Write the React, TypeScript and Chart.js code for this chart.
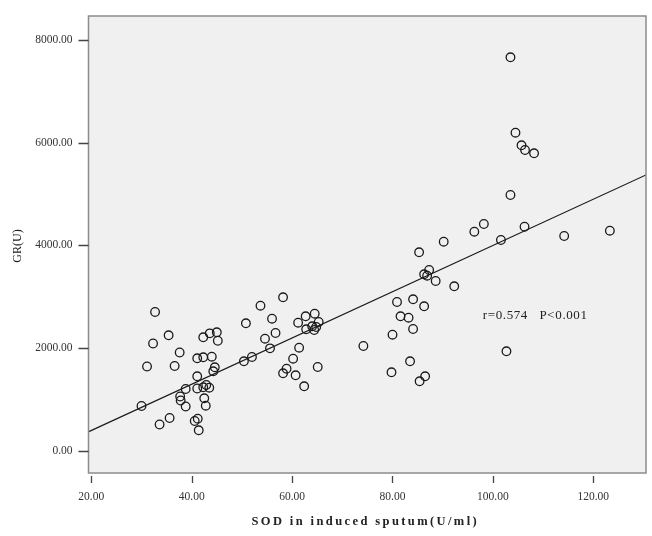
import React, { useEffect, useRef } from "react";
import { Chart, registerables } from "chart.js";

Chart.register(...registerables);

// SOD in induced sputum (U/ml)
const sodValues = [
  30.0, 31.1, 32.3, 32.7, 33.6, 35.4, 35.6, 36.6, 37.6, 37.7,
  37.8, 38.8, 38.8, 40.6, 41.2, 41.4, 41.1, 41.1, 41.1, 42.3,
  43.6, 45.0, 45.2, 42.3, 44.0, 44.6, 44.3, 42.3, 42.9, 43.5,
  42.5, 42.8, 50.8, 50.4, 52.0, 53.7, 58.2, 56.0, 56.7, 54.6,
  55.6, 58.2, 58.9, 60.2, 60.7, 61.4, 61.2, 62.7, 64.5, 65.3,
  64.0, 62.8, 64.4, 64.8, 65.1, 62.4, 74.2, 80.0, 79.8, 80.9,
  81.6, 83.2, 83.5, 84.1, 84.1, 85.3, 85.4, 86.5, 86.3, 86.3,
  86.9, 87.3, 88.6, 90.2, 92.3, 96.3, 98.2, 101.6, 102.7, 103.5,
  103.5, 104.5, 105.7, 106.4, 108.2, 106.3, 114.2, 123.3,
];

// GR (U)
const grValues = [
  876, 1644, 2092, 2705, 516, 2252, 642, 1654, 1917, 1061,
  983, 1207, 866, 584, 629, 403, 1804, 1454, 1216, 2213,
  2290, 2310, 2146, 1823, 1835, 1629, 1551, 1240, 1284, 1232,
  1026, 882, 2485, 1746, 1829, 2828, 2991, 2575, 2296, 2185,
  1998, 1512, 1602, 1796, 1473, 2010, 2497, 2621, 2672, 2510,
  2427, 2368, 2355, 2413, 1635, 1259, 2043, 2263, 1532, 2900,
  2621, 2594, 1746, 2374, 2952, 3867, 1356, 1454, 2816, 3439,
  3411, 3522, 3308, 4073, 3205, 4268, 4417, 4106, 1940, 4982,
  7661, 6194, 5949, 5857, 5793, 4365, 4184, 4287,
];

// Fit line endpoints (at the plot edges)
const fitX = [19.4, 130.5];
const fitY = [373, 5372];

const xTickValues = [20, 40, 60, 80, 100, 120];
const yTickValues = [0, 2000, 4000, 6000, 8000];

const xTitle = "SOD in induced sputum(U/ml)";
const yTitle = "GR(U)";
const statText = "r=0.574   P<0.001";
const statPos = { x: 98.0, y: 2633 };

const SERIF = "'Liberation Serif', 'DejaVu Serif', serif";

const framePlugin = {
  id: "spssFrame",
  beforeDatasetsDraw(chart: any) {
    const { ctx, chartArea: a } = chart;
    ctx.save();
    ctx.fillStyle = "#f0f0f0";
    ctx.fillRect(a.left, a.top, a.right - a.left, a.bottom - a.top);
    ctx.restore();
  },
  afterDraw(chart: any) {
    const { ctx, chartArea: a, scales } = chart;
    const xs = scales.x;
    const ys = scales.y;
    ctx.save();
    // frame
    ctx.strokeStyle = "#8c8c8c";
    ctx.lineWidth = 1.5;
    ctx.strokeRect(a.left, a.top, a.right - a.left, a.bottom - a.top);
    // ticks
    ctx.strokeStyle = "#444";
    ctx.lineWidth = 1.3;
    ctx.beginPath();
    yTickValues.forEach((v) => {
      const py = Math.round(ys.getPixelForValue(v)) + 0.5;
      ctx.moveTo(a.left - 10, py);
      ctx.lineTo(a.left, py);
    });
    xTickValues.forEach((v) => {
      const px = Math.round(xs.getPixelForValue(v)) + 0.5;
      ctx.moveTo(px, a.bottom + 3);
      ctx.lineTo(px, a.bottom + 10);
    });
    ctx.stroke();

    // stat annotation
    ctx.fillStyle = "#222";
    ctx.font = `13px ${SERIF}`;
    (ctx as any).letterSpacing = "0.6px";
    ctx.textAlign = "left";
    ctx.textBaseline = "middle";
    ctx.fillText(statText, xs.getPixelForValue(statPos.x), ys.getPixelForValue(statPos.y));

    // x title
    ctx.font = `bold 12.5px ${SERIF}`;
    (ctx as any).letterSpacing = "2.4px";
    ctx.textAlign = "center";
    ctx.fillStyle = "#222";
    ctx.fillText(xTitle, (a.left + a.right) / 2 - 2, 522);

    // y title
    (ctx as any).letterSpacing = "0px";
    ctx.font = `12px ${SERIF}`;
    ctx.translate(17.5, 246);
    ctx.rotate(-Math.PI / 2);
    ctx.fillText(yTitle, 0, 0);
    ctx.restore();
  },
};

export default function App() {
  const ref = useRef<HTMLCanvasElement>(null);

  useEffect(() => {
    document.body.style.margin = "0";
    const canvas = ref.current;
    if (!canvas) return;
    const points = sodValues.map((x, i) => ({ x, y: grValues[i] }));
    const line = fitX.map((x, i) => ({ x, y: fitY[i] }));
    const chart = new Chart(canvas, {
      type: "scatter",
      data: {
        datasets: [
          {
            type: "line",
            data: line,
            borderColor: "#1a1a1a",
            borderWidth: 1.2,
            pointRadius: 0,
            fill: false,
          } as any,
          {
            data: points,
            pointRadius: 4.3,
            pointBorderWidth: 1.3,
            pointBackgroundColor: "rgba(0,0,0,0)",
            pointBorderColor: "#1a1a1a",
          },
        ],
      },
      options: {
        responsive: false,
        animation: false,
        devicePixelRatio: 1,
        layout: { padding: { left: 0, top: 16, right: 6, bottom: 0 } },
        plugins: { legend: { display: false }, tooltip: { enabled: false } },
        scales: {
          x: {
            type: "linear",
            min: 19.44,
            max: 130.5,
            grid: { display: false },
            border: { display: false },
            afterFit: (s: any) => {
              s.height = 63;
              s.paddingLeft = 0;
              s.paddingRight = 0;
            },
            afterBuildTicks: (s: any) => {
              s.ticks = xTickValues.map((v) => ({ value: v }));
            },
            ticks: {
              padding: 9,
              color: "#333",
              font: { family: SERIF, size: 11.5 },
              maxRotation: 0,
              autoSkip: false,
              callback: (v: any) => Number(v).toFixed(2),
            },
          },
          y: {
            type: "linear",
            min: -428,
            max: 8465,
            grid: { display: false },
            border: { display: false },
            afterFit: (s: any) => {
              s.width = 88.5;
              s.paddingTop = 0;
              s.paddingBottom = 0;
            },
            afterBuildTicks: (s: any) => {
              s.ticks = yTickValues.map((v) => ({ value: v }));
            },
            ticks: {
              padding: 8,
              color: "#333",
              font: { family: SERIF, size: 11.5 },
              autoSkip: false,
              callback: (v: any) => Number(v).toFixed(2),
            },
          },
        },
      },
      plugins: [framePlugin],
    });
    return () => chart.destroy();
  }, []);

  return (
    <div style={{ position: "absolute", left: 0, top: 0, width: 652, height: 536, background: "#fff" }}>
      <canvas ref={ref} width={652} height={536} />
    </div>
  );
}
